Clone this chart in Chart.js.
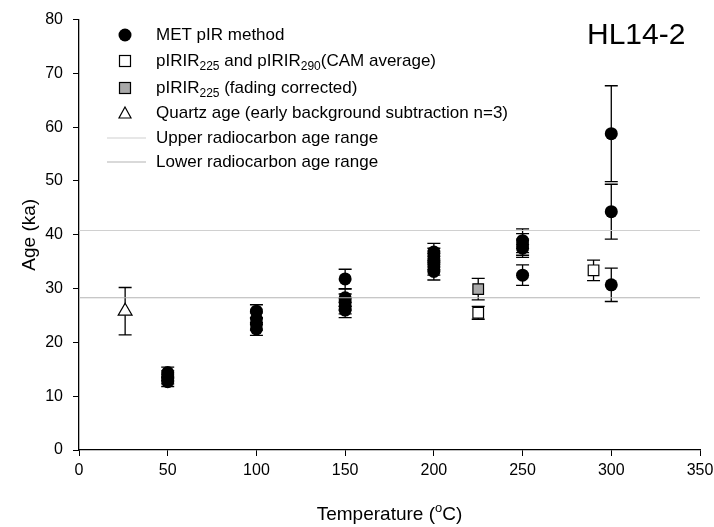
<!DOCTYPE html>
<html>
<head>
<meta charset="utf-8">
<script src="https://cdn.jsdelivr.net/npm/chart.js@4.4.1/dist/chart.umd.min.js"></script>
<style>
  html, body { margin: 0; padding: 0; background: #fff; }
  canvas { display: block; }
</style>
</head>
<body>
<canvas id="c" width="714" height="527"></canvas>
<script>
// MET pIR ages (ka) by stimulation temperature (°C), with 1-sigma errors
const metTemp = [50, 50, 50, 50, 100, 100, 100, 100, 150, 150, 150, 150, 150, 200, 200, 200, 200, 200, 250, 250, 250, 250, 300, 300, 300];
const metAge  = [14.4, 13.8, 13.2, 12.7, 25.8, 24.4, 23.4, 22.5, 31.8, 28.3, 27.5, 26.7, 26.0, 36.8, 36.0, 35.0, 34.0, 33.2, 38.9, 38.2, 37.5, 32.5, 58.8, 44.3, 30.7];
const metErr  = [1.0, 0.9, 0.9, 0.9, 1.2, 1.1, 1.1, 1.2, 1.8, 1.6, 1.5, 1.4, 1.4, 1.6, 1.5, 1.5, 1.5, 1.6, 2.2, 2.0, 1.7, 1.9, 8.9, 5.1, 3.1];

// pIRIR225 and pIRIR290 CAM averages
const camTemp = [225, 290];
const camAge  = [25.5, 33.4];
const camErr  = [1.2, 1.9];

// pIRIR225 fading corrected
const fadeTemp = [225];
const fadeAge  = [29.9];
const fadeErr  = [2.0];

// Quartz age (early background subtraction)
const qtzTemp = [26];
const qtzAge  = [25.8];
const qtzErr  = [4.4];

// Radiocarbon age range bounds (ka)
const upperC14 = 40.8;
const lowerC14 = 28.3;

const xTicks = [0, 50, 100, 150, 200, 250, 300, 350];
const yTicks = [0, 10, 20, 30, 40, 50, 60, 70, 80];

const FONT = '"Liberation Sans", Arial, sans-serif';

function pts(xs, ys, es) {
  return xs.map((x, i) => ({ x: x, y: ys[i], err: es ? es[i] : 0 }));
}

// Vertical error bars with caps, drawn beneath the markers
const errorBars = {
  id: 'errorBars',
  beforeDatasetsDraw(chart) {
    const ctx = chart.ctx;
    const xs = chart.scales.x, ys = chart.scales.y;
    ctx.save();
    ctx.strokeStyle = '#000';
    ctx.lineWidth = 1.3;
    chart.data.datasets.forEach(ds => {
      if (!ds.errorBars) return;
      ds.data.forEach(p => {
        const px = xs.getPixelForValue(p.x);
        const top = ys.getPixelForValue(p.y + p.err);
        const bot = ys.getPixelForValue(p.y - p.err);
        const cap = 6.5;
        ctx.beginPath();
        ctx.moveTo(px, top); ctx.lineTo(px, bot);
        ctx.moveTo(px - cap, top); ctx.lineTo(px + cap, top);
        ctx.moveTo(px - cap, bot); ctx.lineTo(px + cap, bot);
        ctx.stroke();
      });
    });
    ctx.restore();
  }
};

// Text runs with optional subscripts / superscripts
function drawSubText(ctx, parts, x, y) {
  parts.forEach(part => {
    if (part.sub) {
      ctx.font = '12px ' + FONT;
      ctx.fillText(part.t, x, y + 6);
    } else if (part.sup) {
      ctx.font = '13px ' + FONT;
      ctx.fillText(part.t, x, y - 7);
    } else {
      ctx.font = part.font;
      ctx.fillText(part.t, x, y);
    }
    x += ctx.measureText(part.t).width;
  });
  return x;
}
function measureParts(ctx, parts) {
  let w = 0;
  parts.forEach(part => {
    ctx.font = part.sub ? '12px ' + FONT : part.sup ? '13px ' + FONT : part.font;
    w += ctx.measureText(part.t).width;
  });
  return w;
}

// Legend, panel label and axis titles
const annotations = {
  id: 'annotations',
  afterDraw(chart) {
    const ctx = chart.ctx;
    ctx.save();
    ctx.fillStyle = '#000';
    ctx.textBaseline = 'middle';
    const lf = '17px ' + FONT;
    const mx = 125, tx = 156;
    const rows = [35, 61, 88, 113, 138, 162];

    // MET pIR
    ctx.beginPath(); ctx.arc(mx, rows[0], 6.5, 0, Math.PI * 2); ctx.fillStyle = '#000'; ctx.fill();
    drawSubText(ctx, [{ t: 'MET pIR method', font: lf }], tx, rows[0]);

    // CAM square
    ctx.fillStyle = '#fff'; ctx.strokeStyle = '#000'; ctx.lineWidth = 1.2;
    ctx.fillRect(mx - 5.5, rows[1] - 5.5, 11, 11); ctx.strokeRect(mx - 5.5, rows[1] - 5.5, 11, 11);
    ctx.fillStyle = '#000';
    drawSubText(ctx, [{ t: 'pIRIR', font: lf }, { t: '225', sub: true }, { t: ' and pIRIR', font: lf }, { t: '290', sub: true }, { t: '(CAM average)', font: lf }], tx, rows[1]);

    // Fading corrected square
    ctx.fillStyle = '#a9a9a9';
    ctx.fillRect(mx - 5.5, rows[2] - 5.5, 11, 11); ctx.strokeRect(mx - 5.5, rows[2] - 5.5, 11, 11);
    ctx.fillStyle = '#000';
    drawSubText(ctx, [{ t: 'pIRIR', font: lf }, { t: '225', sub: true }, { t: ' (fading corrected)', font: lf }], tx, rows[2]);

    // Quartz triangle
    ctx.beginPath();
    ctx.moveTo(mx, rows[3] - 6); ctx.lineTo(mx + 6, rows[3] + 5); ctx.lineTo(mx - 6, rows[3] + 5); ctx.closePath();
    ctx.fillStyle = '#fff'; ctx.fill(); ctx.stroke();
    ctx.fillStyle = '#000';
    drawSubText(ctx, [{ t: 'Quartz age (early background subtraction n=3)', font: lf }], tx, rows[3]);

    // Radiocarbon lines
    ctx.lineWidth = 1.2;
    ctx.strokeStyle = '#d0d0d0';
    ctx.beginPath(); ctx.moveTo(107, rows[4]); ctx.lineTo(146, rows[4]); ctx.stroke();
    drawSubText(ctx, [{ t: 'Upper radiocarbon age range', font: lf }], tx, rows[4]);
    ctx.strokeStyle = '#b4b4b4';
    ctx.beginPath(); ctx.moveTo(107, rows[5]); ctx.lineTo(146, rows[5]); ctx.stroke();
    drawSubText(ctx, [{ t: 'Lower radiocarbon age range', font: lf }], tx, rows[5]);

    // Panel label
    ctx.font = '30px ' + FONT;
    ctx.textAlign = 'left';
    ctx.fillText('HL14-2', 587, 36);

    // X axis title
    const xt = [{ t: 'Temperature (', font: '19px ' + FONT }, { t: 'o', sup: true }, { t: 'C)', font: '19px ' + FONT }];
    const area = chart.chartArea;
    const w = measureParts(ctx, xt);
    drawSubText(ctx, xt, (area.left + area.right) / 2 - w / 2, 515);

    // Y axis title
    ctx.save();
    ctx.translate(30, (area.top + area.bottom) / 2);
    ctx.rotate(-Math.PI / 2);
    ctx.font = '19px ' + FONT;
    ctx.textAlign = 'center';
    ctx.fillText('Age (ka)', 0, 0);
    ctx.restore();

    ctx.restore();
  }
};

const lineStyle = (y, color) => ({
  type: 'line',
  data: [{ x: 0, y: y }, { x: 350, y: y }],
  borderColor: color,
  borderWidth: 1.2,
  pointRadius: 0,
  fill: false
});

new Chart(document.getElementById('c'), {
  type: 'scatter',
  data: {
    datasets: [
      lineStyle(upperC14, '#d0d0d0'),
      lineStyle(lowerC14, '#b4b4b4'),
      {
        label: 'MET pIR method',
        data: pts(metTemp, metAge, metErr),
        errorBars: true,
        pointStyle: 'circle',
        pointRadius: 6.5,
        backgroundColor: '#000',
        borderColor: '#000',
        borderWidth: 0
      },
      {
        label: 'CAM average',
        data: pts(camTemp, camAge, camErr),
        errorBars: true,
        pointStyle: 'rect',
        pointRadius: 7.5,
        backgroundColor: '#fff',
        borderColor: '#000',
        borderWidth: 1.2
      },
      {
        label: 'fading corrected',
        data: pts(fadeTemp, fadeAge, fadeErr),
        errorBars: true,
        pointStyle: 'rect',
        pointRadius: 7.5,
        backgroundColor: '#a9a9a9',
        borderColor: '#000',
        borderWidth: 1.2
      },
      {
        label: 'Quartz age',
        data: pts(qtzTemp, qtzAge, qtzErr),
        errorBars: true,
        pointStyle: 'triangle',
        pointRadius: 8,
        backgroundColor: '#fff',
        borderColor: '#000',
        borderWidth: 1.2
      }
    ]
  },
  options: {
    responsive: false,
    animation: false,
    layout: { padding: { top: 19, right: 4, left: 0, bottom: 0 } },
    plugins: { legend: { display: false }, tooltip: { enabled: false } },
    scales: {
      x: {
        type: 'linear',
        min: 0, max: 350,
        afterBuildTicks(s) { s.ticks = xTicks.map(v => ({ value: v })); },
        afterFit(s) { s.height = 77; s.paddingRight = 14; },
        grid: { drawOnChartArea: false, drawTicks: true, tickLength: 6, color: '#000', lineWidth: 1 },
        border: { color: '#000', width: 1.3 },
        ticks: { color: '#000', font: { family: FONT, size: 16 }, padding: 5, maxRotation: 0 }
      },
      y: {
        type: 'linear',
        min: 0, max: 80,
        afterBuildTicks(s) { s.ticks = yTicks.map(v => ({ value: v })); },
        afterFit(s) { s.width = 79; },
        grid: { drawOnChartArea: false, drawTicks: true, tickLength: 6, color: '#000', lineWidth: 1 },
        border: { color: '#000', width: 1.3 },
        ticks: { color: '#000', font: { family: FONT, size: 16 }, padding: 10 }
      }
    }
  },
  plugins: [errorBars, annotations]
});
</script>
</body>
</html>
